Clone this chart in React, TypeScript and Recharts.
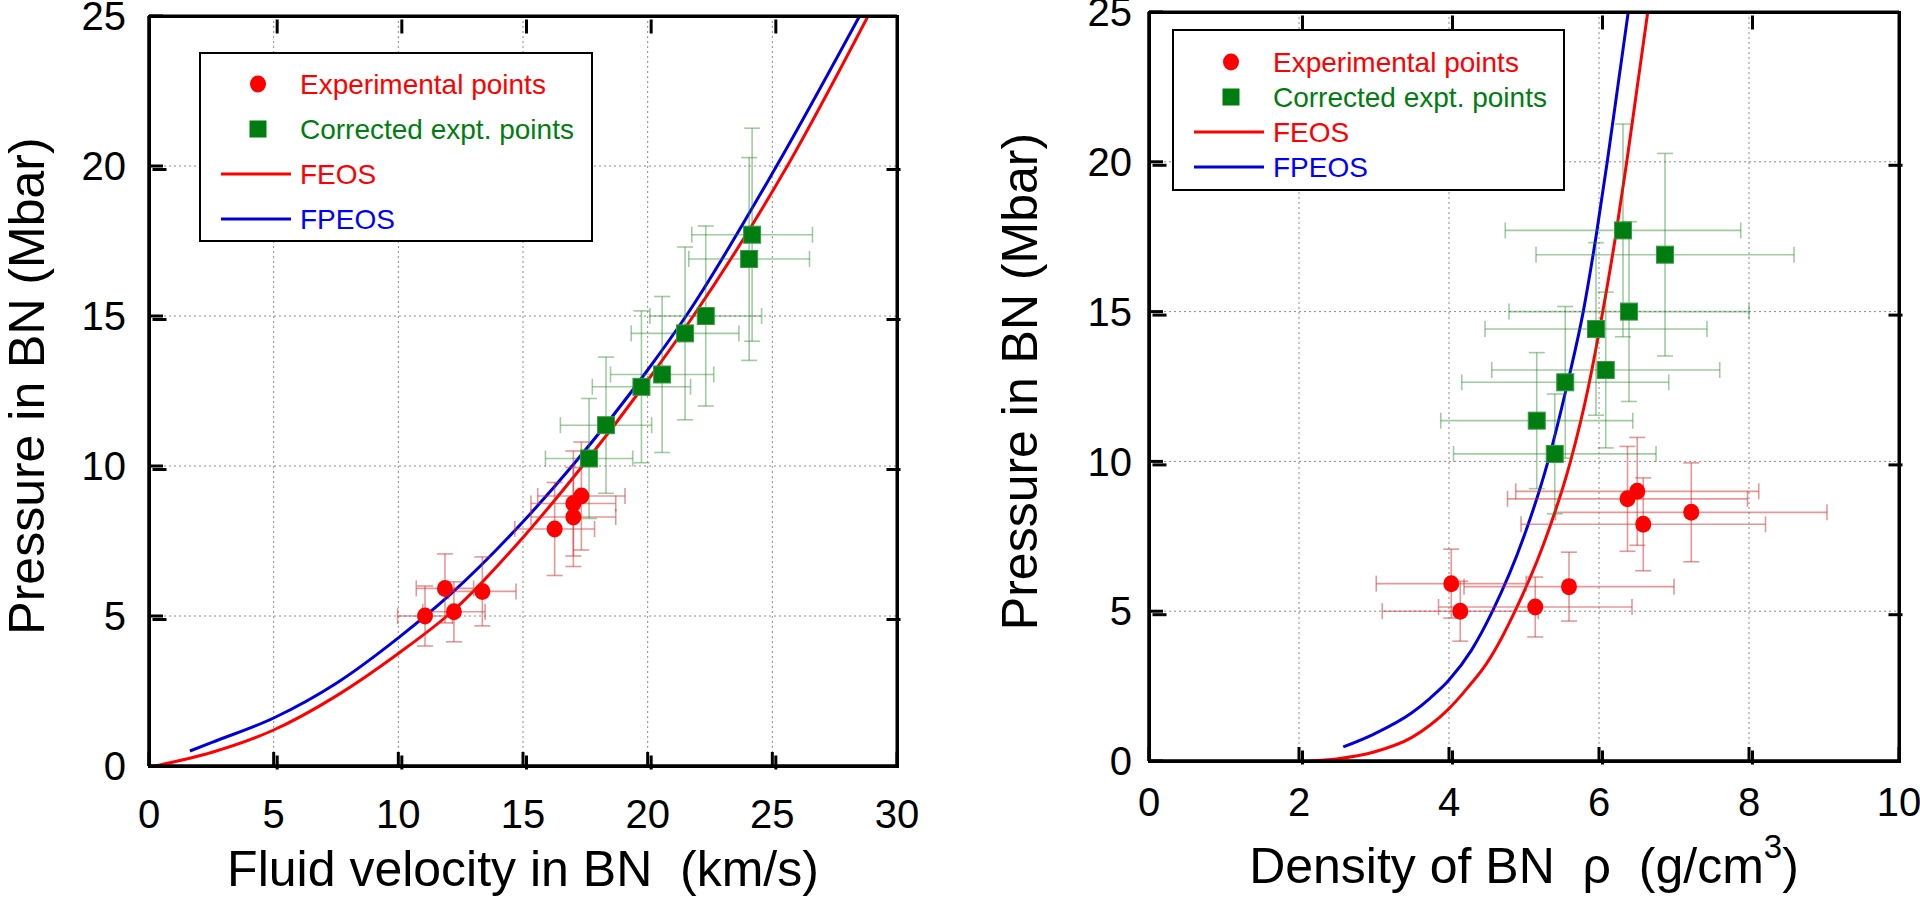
import React from "react";
import { ComposedChart, Scatter, Line, XAxis, YAxis, CartesianGrid, ErrorBar, Label, ReferenceLine } from "recharts";

const FONT = '"Liberation Sans", Arial, Helvetica, sans-serif';
const RED = "#ff0000";
const GREEN = "#007d10";
const BLUE = "#0000dc";
const RED_BAR = "rgba(205, 50, 50, 0.5)";
const GREEN_BAR = "rgba(30, 130, 30, 0.42)";

// pressure in BN (Mbar), same for both panels
const expP = [5.0, 5.92, 5.14, 5.82, 7.9, 8.75, 8.3, 9.0];
const expPErr = [1.0, 1.15, 1.0, 1.15, 1.55, 1.75, 1.65, 1.8];
const corP = [10.25, 11.36, 12.64, 13.05, 14.42, 15.0, 17.71, 16.9];
const corPErr = [2.0, 2.27, 2.53, 2.6, 2.88, 3.0, 3.55, 3.38];

// left panel: fluid velocity (km/s)
const expUp = [11.07, 11.87, 12.23, 13.37, 16.27, 17.02, 17.02, 17.34];
const expUpErr = [1.1, 1.15, 1.25, 1.35, 1.6, 1.7, 1.7, 1.75];
const corUp = [17.65, 18.33, 19.75, 20.58, 21.5, 22.33, 24.19, 24.07];
const corUpErr = [1.75, 1.83, 1.97, 2.07, 2.16, 2.24, 2.42, 2.42];

// right panel: density (g/cm3)
const expRho = [4.15, 4.03, 5.15, 5.6, 6.59, 6.38, 7.23, 6.51];
const expRhoErr = [1.04, 1.0, 1.29, 1.4, 1.63, 1.6, 1.81, 1.62];
const corRho = [5.41, 5.17, 5.55, 6.09, 5.96, 6.4, 6.32, 6.88];
const corRhoErr = [1.35, 1.28, 1.38, 1.52, 1.48, 1.6, 1.57, 1.72];

// model curves
const feosUp = [0.25, 2.5, 5, 7.5, 10, 12.23, 15, 17.29, 20, 21.83, 25.6, 28.84];
const feosUpP = [0, 0.45, 1.2, 2.33, 3.75, 5.2, 7.62, 9.9, 12.85, 15, 20, 25];
const fpeosUp = [1.64, 2.5, 5, 7.5, 10, 12.14, 15, 17.02, 20, 21.54, 25.17, 28.5];
const fpeosUpP = [0.5, 0.78, 1.6, 2.75, 4.27, 5.76, 8.14, 10.05, 13.2, 15, 20, 25];
const feosRho = [2.14, 2.5, 3.0, 3.5, 3.75, 4.0, 4.25, 4.5, 4.7, 4.88, 5.3, 5.62, 5.86, 6.05, 6.22, 6.37, 6.51, 6.65];
const feosRhoP = [0, 0.07, 0.3, 0.78, 1.2, 1.75, 2.45, 3.25, 4.1, 5, 7.5, 10, 12.5, 15, 17.5, 20, 22.5, 25];
const fpeosRho = [2.59, 3.0, 3.5, 3.75, 4.0, 4.3, 4.58, 5.0, 5.32, 5.57, 5.79, 5.96, 6.11, 6.25, 6.39];
const fpeosRhoP = [0.47, 0.9, 1.6, 2.1, 2.7, 3.7, 5, 7.5, 10, 12.5, 15, 17.5, 20, 22.5, 25];

const upTicks = [0, 5, 10, 15, 20, 25, 30];
const rhoTicks = [0, 2, 4, 6, 8, 10];
const pTicks = [0, 5, 10, 15, 20, 25];

const pts = (xs: number[], ys: number[], xe?: number[], ye?: number[]) =>
  xs.map((x, i) => ({ x, y: ys[i], ex: xe ? xe[i] : 0, ey: ye ? ye[i] : 0 }));

const RedDot = (p: any) => <ellipse cx={p.cx} cy={p.cy} rx={8} ry={8.5} fill={RED} />;
const GreenSq = (p: any) => (
  <rect x={p.cx - 8.5} y={p.cy - 8.5} width={17} height={17} fill={GREEN} stroke="#3a9a45" strokeWidth={1} />
);

// plot-area boxes in page pixels
const leftBox = { x: 149, y: 16, w: 748, h: 750 };
const rightBox = { x: 1149, y: 12, w: 750, h: 749 };

// box outline (css border, like the legend boxes) with inward ticks
function Frame(props: any) {
  const { box, xTicks, xMax } = props;
  const t = 14;
  const lw = 3;
  const W = box.w + lw;
  const H = box.h + lw;
  const ticks: any[] = [];
  xTicks.slice(1, -1).forEach((v: number) => {
    const px = (v / xMax) * box.w; // from outer-left + 1.5 = line centre
    ticks.push(<rect key={"b" + v} x={px} y={H - t - lw / 2} width={lw} height={t} fill="#000" />);
    ticks.push(<rect key={"t" + v} x={px} y={lw / 2} width={lw} height={t} fill="#000" />);
  });
  pTicks.slice(1, -1).forEach((v) => {
    const py = box.h - (v / 25) * box.h;
    ticks.push(<rect key={"l" + v} x={lw / 2} y={py} width={t} height={lw} fill="#000" />);
    ticks.push(<rect key={"r" + v} x={W - t - lw / 2} y={py} width={t} height={lw} fill="#000" />);
  });
  return (
    <svg
      width={W}
      height={H}
      style={{
        position: "absolute",
        left: box.x - lw / 2,
        top: box.y - lw / 2,
        zIndex: 5,
        border: "3px solid #000",
        boxSizing: "border-box",
        overflow: "visible",
      }}
    >
      {ticks}
    </svg>
  );
}

function Panel(props: any) {
  const { width, yAxisW, top, right, xAxisH, xDomain, xTicks, exp, cor, feos, fpeos } = props;
  const tickFont = { fill: "#000", fontSize: 40, fontFamily: FONT };
  const edge = { stroke: "#000", strokeWidth: 3, ifOverflow: "visible" as const };
  return (
    <ComposedChart width={width} height={899} margin={{ top, right, bottom: 0, left: 0 }}>
      <CartesianGrid stroke="#8a8a8a" strokeDasharray="2 3" strokeWidth={1} />
      <XAxis
        dataKey="x"
        type="number"
        domain={xDomain}
        ticks={xTicks}
        interval={0}
        allowDataOverflow
        height={xAxisH}
        stroke="#000"
        axisLine={{ stroke: "#000", strokeWidth: 3 }}
        tickLine={{ stroke: "#000", strokeWidth: 3 }}
        tickSize={-14}
        tickMargin={props.xTickGap}
        tick={tickFont}
      >
        <Label content={props.xTitle} />
      </XAxis>
      <YAxis
        dataKey="y"
        type="number"
        domain={[0, 25]}
        ticks={pTicks}
        interval={0}
        allowDataOverflow
        width={yAxisW}
        stroke="#000"
        axisLine={{ stroke: "#000", strokeWidth: 3 }}
        tickLine={{ stroke: "#000", strokeWidth: 3 }}
        tickSize={-14}
        tickMargin={props.yTickGap}
        tick={tickFont}
      >
        <Label
          content={(lp: any) => {
            const vb = lp.viewBox || { x: 0, y: top, width: yAxisW, height: 750 };
            const cx = vb.x + props.yTitleX;
            const cy = vb.y + vb.height / 2 - 5;
            return (
              <text
                x={cx}
                y={cy}
                transform={`rotate(-90 ${cx} ${cy})`}
                textAnchor="middle"
                fontSize={50}
                fontFamily={FONT}
                fill="#000"
              >
                Pressure in BN (Mbar)
              </text>
            );
          }}
        />
      </YAxis>
      <ReferenceLine x={xDomain[0]} {...edge} />
      <ReferenceLine x={xDomain[1]} {...edge} />
      <ReferenceLine y={0} {...edge} />
      <ReferenceLine y={25} {...edge} />
      <Line data={feos} dataKey="y" type="monotone" stroke={RED} strokeWidth={3} dot={false} isAnimationActive={false} />
      <Line data={fpeos} dataKey="y" type="monotone" stroke={BLUE} strokeWidth={3} dot={false} isAnimationActive={false} />
      <Scatter data={exp} dataKey="y" shape={RedDot} isAnimationActive={false}>
        <ErrorBar dataKey="ex" direction="x" width={8} stroke={RED_BAR} strokeWidth={1.6} />
        <ErrorBar dataKey="ey" direction="y" width={8} stroke={RED_BAR} strokeWidth={1.6} />
      </Scatter>
      <Scatter data={cor} dataKey="y" shape={GreenSq} isAnimationActive={false}>
        <ErrorBar dataKey="ex" direction="x" width={8} stroke={GREEN_BAR} strokeWidth={1.6} />
        <ErrorBar dataKey="ey" direction="y" width={8} stroke={GREEN_BAR} strokeWidth={1.6} />
      </Scatter>
    </ComposedChart>
  );
}

function LegendBox(props: { left: number; top: number; w: number; h: number; rows: number[] }) {
  const { left, top, w, h, rows } = props;
  const txt = { fontSize: 28, fontFamily: FONT, dominantBaseline: "central" as const };
  return (
    <svg
      width={w}
      height={h}
      style={{ position: "absolute", left, top, zIndex: 6, background: "#fff", border: "2.5px solid #000", boxSizing: "border-box" }}
    >
      <ellipse cx={57} cy={rows[0]} rx={8} ry={8.5} fill={RED} />
      <text x={99} y={rows[0]} fill={RED} {...txt}>Experimental points</text>
      <rect x={48.5} y={rows[1] - 8.5} width={17} height={17} fill={GREEN} />
      <text x={99} y={rows[1]} fill={GREEN} {...txt}>Corrected expt. points</text>
      <line x1={20} x2={90} y1={rows[2]} y2={rows[2]} stroke={RED} strokeWidth={3} />
      <text x={99} y={rows[2]} fill={RED} {...txt}>FEOS</text>
      <line x1={20} x2={90} y1={rows[3]} y2={rows[3]} stroke={BLUE} strokeWidth={3} />
      <text x={99} y={rows[3]} fill="#0000ff" {...txt}>FPEOS</text>
    </svg>
  );
}

export default function App() {
  const upTitle = (lp: any) => {
    const vb = lp.viewBox || { x: 149, y: 766, width: 748, height: 133 };
    return (
      <text
        x={vb.x + vb.width / 2}
        y={vb.y + 120}
        textAnchor="middle"
        fontSize={50}
        fontFamily={FONT}
        fill="#000"
        style={{ whiteSpace: "pre" }}
      >
        {"Fluid velocity in BN  (km/s)"}
      </text>
    );
  };
  const rhoTitle = (lp: any) => {
    const vb = lp.viewBox || { x: 219, y: 761, width: 750, height: 138 };
    return (
      <text
        x={vb.x + vb.width / 2}
        y={vb.y + 122}
        textAnchor="middle"
        fontSize={50}
        fontFamily={FONT}
        fill="#000"
        style={{ whiteSpace: "pre" }}
      >
        {"Density of BN  ρ  (g/cm"}
        <tspan dy={-25} fontSize={33}>3</tspan>
        <tspan dy={25}>)</tspan>
      </text>
    );
  };

  return (
    <div style={{ position: "absolute", left: 0, top: 0, width: 1920, height: 899, background: "#fff", overflow: "hidden" }}>
      <div style={{ position: "absolute", left: 0, top: 0, zIndex: 1 }}>
        <Panel
          width={920}
          yAxisW={149}
          top={16}
          right={23}
          xAxisH={133}
          xDomain={[0, 30]}
          xTicks={upTicks}
          xTickGap={48}
          yTickGap={37}
          yTitleX={44}
          xTitle={upTitle}
          exp={pts(expUp, expP, expUpErr, expPErr)}
          cor={pts(corUp, corP, corUpErr, corPErr)}
          feos={pts(feosUp, feosUpP)}
          fpeos={pts(fpeosUp, fpeosUpP)}
        />
      </div>
      <div style={{ position: "absolute", left: 930, top: 0, zIndex: 1 }}>
        <Panel
          width={990}
          yAxisW={219}
          top={12}
          right={21}
          xAxisH={138}
          xDomain={[0, 10]}
          xTicks={rhoTicks}
          xTickGap={41}
          yTickGap={31}
          yTitleX={107}
          xTitle={rhoTitle}
          exp={pts(expRho, expP, expRhoErr, expPErr)}
          cor={pts(corRho, corP, corRhoErr, corPErr)}
          feos={pts(feosRho, feosRhoP)}
          fpeos={pts(fpeosRho, fpeosRhoP)}
        />
      </div>
      <Frame box={leftBox} xTicks={upTicks} xMax={30} />
      <Frame box={rightBox} xTicks={rhoTicks} xMax={10} />
      <LegendBox left={199} top={52} w={394} h={190} rows={[30, 75, 120, 165]} />
      <LegendBox left={1172} top={29} w={393} h={162} rows={[31, 66, 101, 136]} />
    </div>
  );
}
